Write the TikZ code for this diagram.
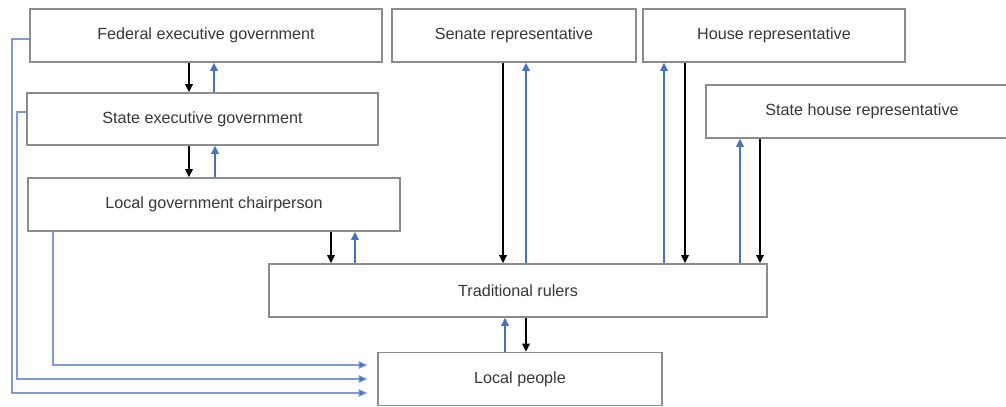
\documentclass[tikz,border=0pt]{standalone}
\usepackage{fontspec}
\setmainfont{Liberation Sans}
\usetikzlibrary{arrows.meta}
\definecolor{linkblue}{HTML}{4472C4}
\definecolor{sideblue}{HTML}{7F9BD6}
\definecolor{boxgray}{HTML}{8C8C8C}
\definecolor{textgray}{HTML}{383838}

\begin{document}
\begin{tikzpicture}[
		x=0.02cm, y=-0.02cm,
		box/.style={rectangle, draw=boxgray, line width=0.8pt, fill=white, text=textgray,
			font=\fontsize{9.2}{11}\selectfont, minimum height=1.06cm, inner sep=0pt},
		down/.style={draw=black, line width=1.1pt, -{Triangle[length=4.6pt, width=4.2pt]}},
		up/.style={draw=linkblue, line width=0.9pt, -{Triangle[length=4.6pt, width=4.2pt]}},
		side/.style={draw=sideblue, line width=0.6pt, shorten >=0.2cm, -{Triangle[length=5pt, width=4.4pt, fill=linkblue]}}
	]
  \useasboundingbox (0,0) rectangle (1006,406);
  \clip (0,0) rectangle (1006,406);
  \fill[white] (0,0) rectangle (1006,406);
  \node (fed) [box, minimum width=7.04cm] at (206, 35.5) {Federal executive government};
  \node (senate) [box, minimum width=4.88cm] at (514, 35.5) {Senate representative};
  \node (house) [box, minimum width=5.24cm] at (774, 35.5) {House representative};
  \node (sthouse) [box, minimum width=6.24cm] at (862, 111.5) {State house representative};
  \node (stexec) [box, minimum width=7.02cm, minimum height=1.04cm] at (202.5, 119) {State executive government};
  \node (lgc) [box, minimum width=7.44cm] at (214, 204.5) {Local government chairperson};
  \node (trad) [box, minimum width=9.96cm] at (518, 290.5) {Traditional rulers};
  \node (people) [box, minimum width=5.68cm] at (520, 379) {Local people};
  \draw[down] (fed.south -| 189,0) -- (stexec.north -| 189,0);
  \draw[up] (stexec.north -| 214,0) -- (fed.south -| 214,0);
  \draw[down] (stexec.south -| 189,0) -- (lgc.north -| 189,0);
  \draw[up] (lgc.north -| 215,0) -- (stexec.south -| 215,0);
  \draw[down] (lgc.south -| 331,0) -- (trad.north -| 331,0);
  \draw[up] (trad.north -| 355,0) -- (lgc.south -| 355,0);
  \draw[down] (senate.south -| 503,0) -- (trad.north -| 503,0);
  \draw[up] (trad.north -| 526,0) -- (senate.south -| 526,0);
  \draw[up] (trad.north -| 664,0) -- (house.south -| 664,0);
  \draw[down] (house.south -| 685,0) -- (trad.north -| 685,0);
  \draw[up] (trad.north -| 740,0) -- (sthouse.south -| 740,0);
  \draw[down] (sthouse.south -| 760,0) -- (trad.north -| 760,0);
  \draw[up] (people.north -| 505,0) -- (trad.south -| 505,0);
  \draw[down] (trad.south -| 526,0) -- (people.north -| 526,0);
  \draw[side] (fed.west |- 0,39) -| (12,393) -- (people.west |- 0,393);
  \draw[side] (stexec.west |- 0,112) -| (17,379) -- (people.west |- 0,379);
  \draw[side] (lgc.south -| 53,0) |- (people.west |- 0,365);
\end{tikzpicture}
\end{document}
